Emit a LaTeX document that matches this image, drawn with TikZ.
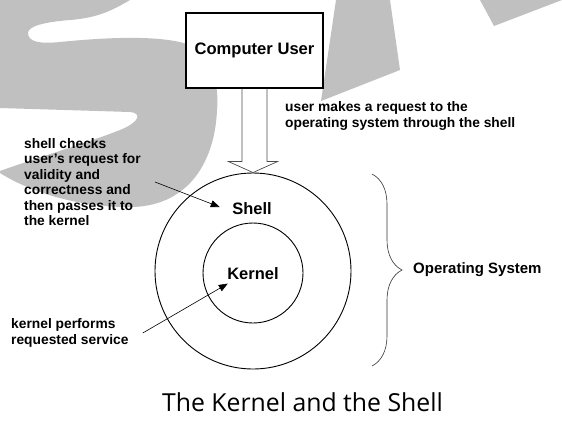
\documentclass[tikz,border=0pt]{standalone}
\usepackage{fontspec}
\setmainfont{Liberation Sans}
\newfontfamily\captionfont{Open Sans}
\usetikzlibrary{arrows.meta,decorations.pathreplacing}
\definecolor{wmgray}{RGB}{192,192,192}

\begin{document}
\begin{tikzpicture}[x=1pt,y=-1pt,
  lbl/.style={font=\fontsize{13.8}{15.4}\selectfont\bfseries,align=left,inner sep=0pt},
  pointer/.style={line width=0.6pt,-{Triangle[length=9pt,width=7pt]}},
  ring/.style={draw,circle,line width=0.9pt,inner sep=0pt}]
\useasboundingbox (0,0) rectangle (562,432);

% watermark behind everything
\begin{scope}
\clip (0,0) rectangle (562,432);
\fill[wmgray] (-5,-5) -- (135,-5) -- (130,0) .. controls (110,12) and (95,18) .. (70,20)
  .. controls (45,22) and (28,26) .. (28,33) .. controls (28,42) and (40,44) .. (60,42)
  .. controls (100,38) and (160,34) .. (190,45) .. controls (215,58) and (219,90) .. (217,110)
  .. controls (215,160) and (190,205) .. (133,207) .. controls (80,208) and (30,192) .. (0,173)
  -- (0,171) .. controls (30,160) and (90,142) .. (120,130) .. controls (140,122) and (142,113) .. (130,112)
  -- (0,108) -- (-5,108) -- cycle;
\fill[wmgray] (336,0) -- (390,0) -- (400,70) -- (321,101) -- cycle;
\fill[wmgray] (480,0) -- (494,26) -- (562,0) -- cycle;
\end{scope}

\node[draw,line width=1.2pt,minimum width=137pt,minimum height=75pt,fill=white,
  font=\fontsize{16.6}{18}\selectfont\bfseries] (user) at (254.5,50.5) {Computer User};

\node[ring,minimum size=196pt] (os) at (253,271) {};
\node[ring,minimum size=100pt] (core) at (253,273) {};

\draw[line width=0.7pt,black!70] ([xshift=-12.5pt]user.south) |- ([xshift=-24.5pt,yshift=11pt]os.north)
  -- (os.north) -- ([xshift=24.5pt,yshift=11pt]os.north) -| ([xshift=12.5pt]user.south);

\node[font=\fontsize{16.5}{18}\selectfont\bfseries] (shl) at (252,209) {Shell};
\node[font=\fontsize{16.5}{18}\selectfont\bfseries] (krn) at (253,274) {Kernel};

\node[lbl,anchor=west] (req) at (285,116) {user makes a request to the\\operating system through the shell};
\node[lbl,anchor=west] (check) at (24,182) {shell checks\\user’s request for\\validity and\\correctness and\\then passes it to\\the kernel};
\node[lbl,anchor=west] (serve) at (11,333) {kernel performs\\requested service};

\draw[pointer] ([xshift=14pt]check.east) -- ([xshift=-9pt,yshift=2pt]shl.west);
\draw[pointer] ([xshift=14pt]serve.east) -- ([xshift=4pt]krn.south west);

% operating system brace
\coordinate (bt) at (372,174);
\coordinate (bb) at (372,366);
\draw[line width=0.6pt,black!80,decorate,decoration={brace,amplitude=30pt}] (bt) -- (bb);
\node[font=\fontsize{15}{18}\selectfont\bfseries,anchor=west,inner sep=0pt] (opsys) at (413,270) {Operating System};

\node[font=\captionfont\fontsize{24.8}{28}\selectfont,anchor=base] (title) at (302.5,411) {The Kernel and the Shell};
\end{tikzpicture}
\end{document}
